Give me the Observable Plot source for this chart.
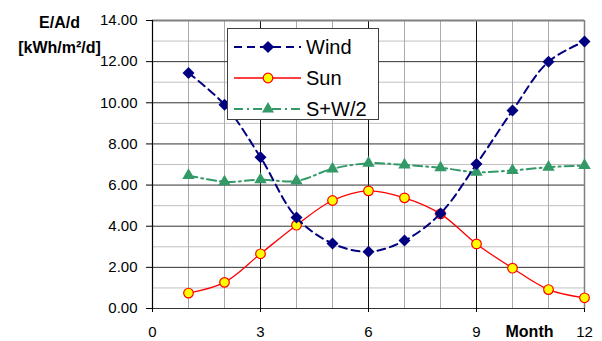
<!DOCTYPE html>
<html>
<head>
<meta charset="utf-8">
<script src="https://cdn.jsdelivr.net/npm/d3@7"></script>
<script src="https://cdn.jsdelivr.net/npm/@observablehq/plot@0.6"></script>
<style>
  html, body { margin: 0; padding: 0; background: #fff; }
  #wrap { position: relative; width: 602px; height: 341px; font-family: "Liberation Sans", Arial, sans-serif; }
  #legend { position: absolute; left: 227px; top: 28px; width: 152px; height: 92px; background: #fff;
            border: 1px solid #404040; box-sizing: border-box; }
  #legend .row { position: absolute; left: 0; height: 30px; display: flex; align-items: center; }
  #legend .lab { font-size: 20px; color: #000; margin-left: 5px; }
</style>
</head>
<body>
<div id="wrap"></div>
<script>
const months = [1, 2, 3, 4, 5, 6, 7, 8, 9, 10, 11, 12];
const wind = [11.45, 9.9, 7.35, 4.42, 3.16, 2.76, 3.3, 4.62, 7.02, 9.62, 12.0, 12.98];
const sun = [0.75, 1.27, 2.66, 4.05, 5.25, 5.72, 5.38, 4.6, 3.14, 1.96, 0.92, 0.52];
const sw = [6.47, 6.16, 6.26, 6.2, 6.79, 7.06, 6.98, 6.84, 6.63, 6.71, 6.87, 6.95];
const seriesNames = ["Wind", "Sun", "S+W/2"];
const yTicks = [0, 2, 4, 6, 8, 10, 12, 14];
const yMinor = [1, 3, 5, 7, 9, 11, 13];
const xTicks = [0, 3, 6, 9, 12];
const xMinor = [1, 2, 4, 5, 7, 8, 10, 11];

const W = months.map((m, i) => ({m, v: wind[i]}));
const S = months.map((m, i) => ({m, v: sun[i]}));
const SW = months.map((m, i) => ({m, v: sw[i]}));

const font = "Liberation Sans, Arial, sans-serif";

const chart = Plot.plot({
  width: 602,
  height: 341,
  marginLeft: 152,
  marginRight: 18,
  marginTop: 20,
  marginBottom: 33,
  style: {fontFamily: font, background: "#fff", color: "#000"},
  x: {domain: [0, 12]},
  y: {domain: [0, 14]},
  marks: [
    Plot.ruleY(yMinor, {stroke: "#c0c0c0", strokeWidth: 1}),
    Plot.ruleX(xMinor, {stroke: "#ababab", strokeWidth: 1}),
    Plot.ruleY(yTicks.filter(d => d > 0 && d < 14), {stroke: "#333", strokeWidth: 1}),
    Plot.ruleX([3, 6, 9], {stroke: "#111", strokeWidth: 1}),
    Plot.ruleY([14], {stroke: "#808080", strokeWidth: 2}),
    Plot.ruleX([12], {stroke: "#808080", strokeWidth: 1.5}),
    Plot.ruleY([0], {stroke: "#333", strokeWidth: 1}),
    Plot.ruleX([0], {stroke: "#000", strokeWidth: 1.2}),
    Plot.axisY({ticks: yTicks, tickFormat: d => d.toFixed(2), tickSize: 6, tickPadding: 9, fontSize: 15, label: null, stroke: "#000"}),
    Plot.axisX({ticks: xTicks, tickFormat: d => String(d), tickSize: 4, tickPadding: 14, fontSize: 15, label: null, stroke: "#000"}),
    // S+W/2
    Plot.line(SW, {x: "m", y: "v", stroke: "#339966", strokeWidth: 2, strokeDasharray: "9,4,2,4", curve: "catmull-rom"}),
    Plot.dot(SW, {x: "m", y: "v", symbol: "triangle", r: 4.6, fill: "#339966", stroke: "none"}),
    // Sun
    Plot.line(S, {x: "m", y: "v", stroke: "#ff0000", strokeWidth: 1.3, curve: "catmull-rom"}),
    Plot.dot(S, {x: "m", y: "v", symbol: "circle", r: 4.8, fill: "#ffff00", stroke: "#ff0000", strokeWidth: 1.2}),
    // Wind
    Plot.line(W, {x: "m", y: "v", stroke: "#000080", strokeWidth: 2, strokeDasharray: "8,5", curve: "catmull-rom"}),
    Plot.dot(W, {x: "m", y: "v", symbol: "diamond2", r: 5.4, fill: "#000080", stroke: "none"}),
    // axis titles
    Plot.text(["E/A/d"], {frameAnchor: "top-left", dx: -93, dy: 7, lineAnchor: "bottom", textAnchor: "middle", fontSize: 16, fontWeight: "bold", fill: "#000"}),
    Plot.text(["[kWh/m²/d]"], {frameAnchor: "top-left", dx: -93, dy: 32, lineAnchor: "bottom", textAnchor: "middle", fontSize: 16, fontWeight: "bold", fill: "#000"}),
    Plot.text(["Month"], {frameAnchor: "bottom-right", dx: -31, dy: 28, lineAnchor: "bottom", textAnchor: "end", fontSize: 16, fontWeight: "bold", fill: "#000"})
  ]
});

const wrap = document.getElementById("wrap");
wrap.appendChild(chart);

// legend
const legend = document.createElement("div");
legend.id = "legend";
const styles = [
  {name: seriesNames[0], stroke: "#000080", dash: "8,5", sw: 2, marker: `<rect x="-4.3" y="-4.3" width="8.6" height="8.6" transform="rotate(45)" fill="#000080"/>`},
  {name: seriesNames[1], stroke: "#ff0000", dash: null, sw: 1.3, marker: `<circle r="4.8" fill="#ffff00" stroke="#ff0000" stroke-width="1.2"/>`},
  {name: seriesNames[2], stroke: "#339966", dash: "9,4,2,4", sw: 2, marker: `<path d="M0,-6.9L6,3.5L-6,3.5Z" fill="#339966"/>`}
];
styles.forEach((s, i) => {
  const row = document.createElement("div");
  row.className = "row";
  row.style.top = (3 + i * 31) + "px";
  row.innerHTML = `<svg width="74" height="30" style="margin-left:6px"><line x1="0" x2="67" y1="15" y2="15" stroke="${s.stroke}" stroke-width="${s.sw}" ${s.dash ? `stroke-dasharray="${s.dash}"` : ""}/><g transform="translate(34,15)">${s.marker}</g></svg><span class="lab">${s.name}</span>`;
  row.querySelector(".lab").style.marginLeft = "-2px";
  legend.appendChild(row);
});
wrap.appendChild(legend);
</script>
</body>
</html>
